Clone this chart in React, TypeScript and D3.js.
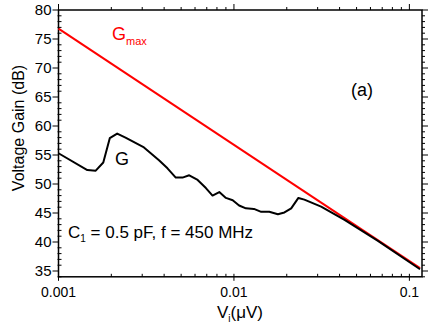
import React, { useEffect, useRef } from 'react';
import * as d3 from 'd3';

// G_max (red) : straight line in log-x
const gmaxX = [0.001, 0.115];
const gmaxY = [76.8, 35.5];

// G (black) measured curve
const gX = [0.001, 0.00146, 0.00163, 0.0018, 0.00196, 0.00216, 0.00241, 0.00307, 0.00374, 0.00418,
  0.00466, 0.00509, 0.00556, 0.00621, 0.00692, 0.00755, 0.00825, 0.009, 0.00984, 0.0107,
  0.0117, 0.013, 0.0143, 0.0159, 0.0178, 0.0194, 0.0212, 0.0233, 0.0252, 0.0314,
  0.0427, 0.0662, 0.115];
const gY = [55.3, 52.4, 52.3, 53.7, 57.9, 58.7, 58.0, 56.3, 54.1, 52.7,
  51.1, 51.1, 51.5, 50.7, 49.3, 48.0, 48.6, 47.6, 47.2, 46.3,
  45.8, 45.7, 45.2, 45.2, 44.8, 45.1, 45.8, 47.6, 47.3, 46.1,
  43.8, 40.2, 35.3];

const xTicks = [0.001, 0.01, 0.1];
const xTickLabels = ['0.001', '0.01', '0.1'];
const yTicks = [35, 40, 45, 50, 55, 60, 65, 70, 75, 80];

export default function App() {
  const ref = useRef<SVGSVGElement>(null);

  useEffect(() => {
    const svg = d3.select(ref.current);
    svg.selectAll('*').remove();
    const left = 58.5, right = 422, top = 10, bottom = 276.8;
    const font = 'Arial, "Liberation Sans", sans-serif';

    const x = d3.scaleLog().domain([0.001, 0.118]).range([left, right]);
    const y = d3.scaleLinear().domain([34, 80]).range([bottom, top]);

    // minor ticks
    const xMinor: number[] = [];
    [0.001, 0.01, 0.1].forEach(d => {
      for (let k = 2; k <= 9; k++) {
        const v = d * k;
        if (v <= 0.118) xMinor.push(v);
      }
    });
    const yMinor = d3.range(34, 81, 1).filter(v => v % 5 !== 0);

    const g = svg.append('g').attr('stroke', '#000').attr('stroke-width', 1);

    // bottom axis
    xMinor.forEach(v => g.append('line').attr('x1', x(v)).attr('x2', x(v)).attr('y1', bottom).attr('y2', bottom - 3));
    xTicks.forEach(v => g.append('line').attr('x1', x(v)).attr('x2', x(v)).attr('y1', bottom - 3).attr('y2', bottom + 4));
    // top axis
    xMinor.forEach(v => g.append('line').attr('x1', x(v)).attr('x2', x(v)).attr('y1', top).attr('y2', top - 3));
    xTicks.forEach(v => g.append('line').attr('x1', x(v)).attr('x2', x(v)).attr('y1', top).attr('y2', top - 6));
    // left axis
    yMinor.forEach(v => g.append('line').attr('x1', left - 1).attr('x2', left + 3).attr('y1', y(v)).attr('y2', y(v)));
    yTicks.forEach(v => g.append('line').attr('x1', left - 6).attr('x2', left).attr('y1', y(v)).attr('y2', y(v)));
    // right axis
    yMinor.forEach(v => g.append('line').attr('x1', right).attr('x2', right + 3).attr('y1', y(v)).attr('y2', y(v)));
    yTicks.forEach(v => g.append('line').attr('x1', right).attr('x2', right + 6).attr('y1', y(v)).attr('y2', y(v)));

    // frame
    svg.append('rect').attr('x', left).attr('y', top).attr('width', right - left).attr('height', bottom - top)
      .attr('fill', 'none').attr('stroke', '#000').attr('stroke-width', 1.5);

    // tick labels
    yTicks.forEach(v => svg.append('text').attr('x', left - 7).attr('y', y(v)).attr('dy', '0.36em')
      .attr('text-anchor', 'end').attr('font-family', font).attr('font-size', 15).text(String(v)));
    xTicks.forEach((v, i) => svg.append('text').attr('x', x(v)).attr('y', 297)
      .attr('text-anchor', 'middle').attr('font-family', font).attr('font-size', 14).text(xTickLabels[i]));

    // axis titles
    const xt = svg.append('text').attr('x', 240).attr('y', 318).attr('text-anchor', 'middle')
      .attr('font-family', font).attr('font-size', 17);
    xt.append('tspan').text('V');
    xt.append('tspan').attr('font-size', 10).attr('dy', 4).text('i');
    xt.append('tspan').attr('dy', -4).text('(\u03BCV)');

    svg.append('text').attr('transform', 'translate(24,128) rotate(-90)').attr('text-anchor', 'middle')
      .attr('font-family', font).attr('font-size', 16).text('Voltage Gain (dB)');

    // lines
    const line = d3.line<[number, number]>().x(d => x(d[0])).y(d => y(d[1]));
    svg.append('path').datum(gmaxX.map((v, i) => [v, gmaxY[i]] as [number, number]))
      .attr('d', line).attr('fill', 'none').attr('stroke', '#ff0000').attr('stroke-width', 2);
    svg.append('path').datum(gX.map((v, i) => [v, gY[i]] as [number, number]))
      .attr('d', line).attr('fill', 'none').attr('stroke', '#000').attr('stroke-width', 2)
      .attr('stroke-linejoin', 'round');

    // annotations
    const gm = svg.append('text').attr('x', 112).attr('y', 40).attr('font-family', font)
      .attr('font-size', 18).attr('fill', '#ff0000');
    gm.append('tspan').text('G');
    gm.append('tspan').attr('font-size', 11).attr('dy', 5).text('max');

    svg.append('text').attr('x', 115).attr('y', 165).attr('font-family', font).attr('font-size', 18).text('G');
    svg.append('text').attr('x', 351).attr('y', 96).attr('font-family', font).attr('font-size', 18).text('(a)');

    const c = svg.append('text').attr('x', 68).attr('y', 238).attr('font-family', font).attr('font-size', 17);
    c.append('tspan').text('C');
    c.append('tspan').attr('font-size', 10).attr('dy', 4).text('1');
    c.append('tspan').attr('dy', -4).text(' = 0.5 pF, f = 450 MHz');
  }, []);

  return (
    <svg ref={ref} width={436} height={327}
      style={{ position: 'absolute', left: 0, top: 0, background: '#fff' }} />
  );
}
